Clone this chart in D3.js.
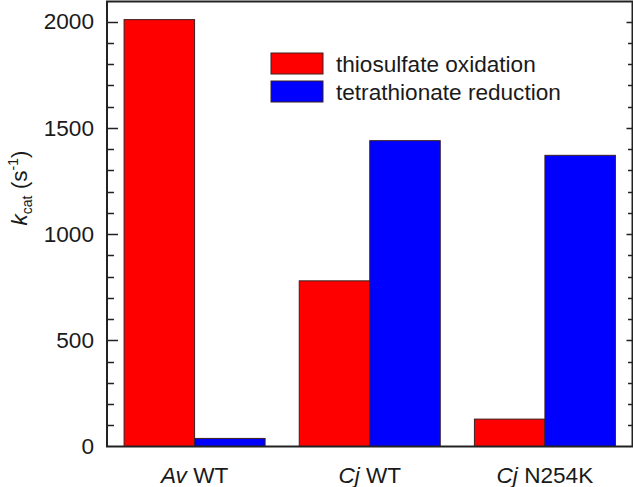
<!DOCTYPE html>
<html>
<head>
<meta charset="utf-8">
<script src="https://cdn.jsdelivr.net/npm/d3@7"></script>
<style>
  html, body { margin: 0; padding: 0; background: #fff; }
  svg text { font-family: "Liberation Sans", Arial, Helvetica, sans-serif; fill: #1a1a1a; }
</style>
</head>
<body>
<svg id="chart" width="633" height="487"></svg>
<script>
// ---- data ----
const categoryItalic = ["Av", "Cj", "Cj"];
const categoryRest = ["WT", "WT", "N254K"];
const categories = ["Av WT", "Cj WT", "Cj N254K"];
const seriesNames = ["thiosulfate oxidation", "tetrathionate reduction"];
const seriesColors = ["#ff0000", "#0000ff"];
const oxidation = [2010, 780, 129];
const reduction = [38, 1440, 1371];
const yTicks = [0, 500, 1000, 1500, 2000];

// ---- layout ----
const mLeft = 107, mRight = 632.5, mTop = 0.5, mBottom = 446.5;
const fs = "22.6px";
const svg = d3.select("#chart");

const y = d3.scaleLinear().domain([0, 2100]).range([mBottom, mTop]);
const x = d3.scaleBand().domain(categories).range([mLeft, mRight])
  .paddingInner(0.195).paddingOuter(0.0975);
const xs = d3.scaleBand().domain(seriesNames).range([0, x.bandwidth()]);

const rows = categories.map((c, i) => ({ cat: c, vals: [oxidation[i], reduction[i]] }));

// bars
const g = svg.append("g");
rows.forEach(r => {
  r.vals.forEach((v, j) => {
    g.append("rect")
      .attr("x", x(r.cat) + xs(seriesNames[j]))
      .attr("y", y(v))
      .attr("width", xs.bandwidth())
      .attr("height", y(0) - y(v))
      .attr("fill", seriesColors[j])
      .attr("stroke", "#3a2020")
      .attr("stroke-width", 1);
  });
});

// frame
svg.append("rect")
  .attr("x", mLeft).attr("y", 1.5)
  .attr("width", mRight - mLeft).attr("height", mBottom - 1.5)
  .attr("fill", "none").attr("stroke", "#222").attr("stroke-width", 2);

// ticks (inward, both sides) drawn as one path
const minor = d3.range(100, 2001, 100);
const tp = d3.path();
minor.forEach(d => {
  const yy = Math.round(y(d)) + 0.5;
  const lenL = d % 500 === 0 ? 11 : 7;
  const lenR = d % 500 === 0 ? 6 : 4.5;
  tp.moveTo(mLeft, yy); tp.lineTo(mLeft + lenL, yy);
  tp.moveTo(mRight, yy); tp.lineTo(mRight - lenR, yy);
});
svg.append("path").attr("d", tp.toString())
  .attr("fill", "none").attr("stroke", "#222").attr("stroke-width", 1.6);

// y tick labels
const yl = svg.append("g").attr("transform", `translate(${mLeft},0)`)
  .call(d3.axisLeft(y).tickValues(yTicks).tickSize(0).tickPadding(13).tickFormat(d3.format("d")));
yl.select(".domain").remove();
yl.selectAll("text")
  .style("font-family", '"Liberation Sans", Arial, sans-serif')
  .style("font-size", fs).attr("fill", "#1a1a1a");

// x labels
const xl = svg.append("g");
categories.forEach((c, i) => {
  const t = xl.append("text")
    .attr("x", x(c) + x.bandwidth() / 2)
    .attr("y", 482.5)
    .attr("text-anchor", "middle")
    .style("font-size", fs);
  t.append("tspan").attr("font-style", "italic").text(categoryItalic[i]);
  t.append("tspan").text(" " + categoryRest[i]);
});

// y axis label
const lab = svg.append("text")
  .attr("transform", "translate(27,188) rotate(-90)")
  .attr("text-anchor", "middle")
  .style("font-size", fs);
lab.append("tspan").attr("font-style", "italic").text("k");
lab.append("tspan").attr("dy", 5).style("font-size", "14px").text("cat");
lab.append("tspan").attr("dy", -5).text(" (s");
lab.append("tspan").attr("dy", -9).style("font-size", "14px").text("-1");
lab.append("tspan").attr("dy", 9).text(")");

// legend
const lg = svg.append("g");
seriesNames.forEach((s, j) => {
  lg.append("rect")
    .attr("x", 271).attr("y", 53 + j * 28)
    .attr("width", 52).attr("height", 21)
    .attr("fill", seriesColors[j])
    .attr("stroke", "#3a2020").attr("stroke-width", 1);
  lg.append("text")
    .attr("x", 336).attr("y", 71.5 + j * 28)
    .style("font-size", fs)
    .text(s);
});
</script>
</body>
</html>
